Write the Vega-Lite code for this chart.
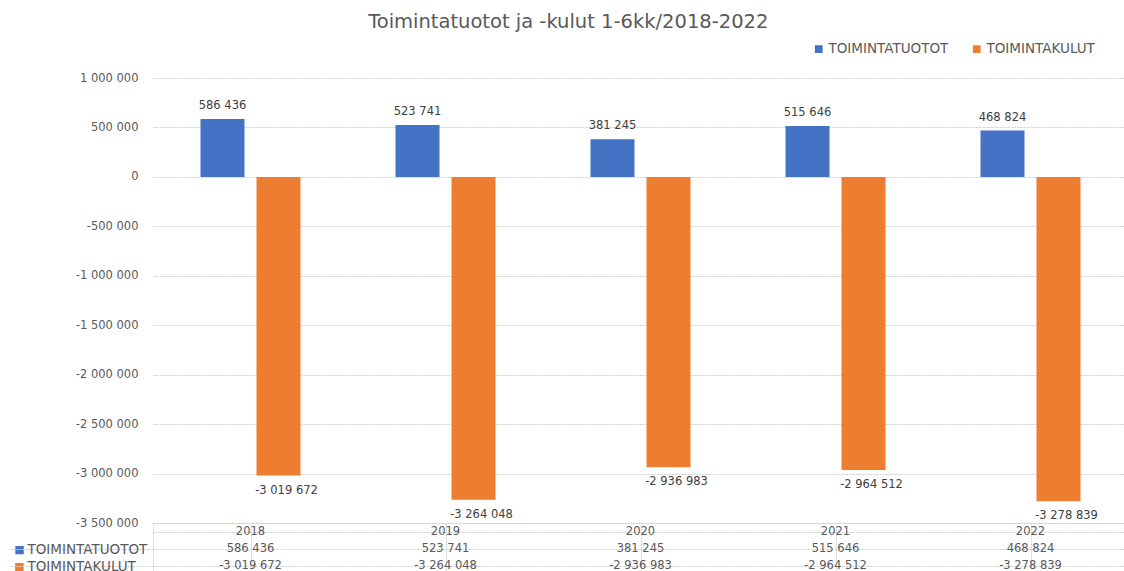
{
  "$schema": "https://vega.github.io/schema/vega-lite/v6.json",
  "background": "white",
  "padding": {"left": 8, "top": 11, "right": 0, "bottom": 0},
  "title": {"text": "Toimintatuotot ja -kulut 1-6kk/2018-2022", "font": "DejaVu Sans", "fontSize": 19.5, "fontWeight": "normal", "color": "#595959", "anchor": "middle", "offset": 10},
  "data": {"values": [
    {"year": "2018", "series": "TOIMINTATUOTOT", "value": 586436},
    {"year": "2018", "series": "TOIMINTAKULUT", "value": -3019672},
    {"year": "2019", "series": "TOIMINTATUOTOT", "value": 523741},
    {"year": "2019", "series": "TOIMINTAKULUT", "value": -3264048},
    {"year": "2020", "series": "TOIMINTATUOTOT", "value": 381245},
    {"year": "2020", "series": "TOIMINTAKULUT", "value": -2936983},
    {"year": "2021", "series": "TOIMINTATUOTOT", "value": 515646},
    {"year": "2021", "series": "TOIMINTAKULUT", "value": -2964512},
    {"year": "2022", "series": "TOIMINTATUOTOT", "value": 468824},
    {"year": "2022", "series": "TOIMINTAKULUT", "value": -3278839}
  ]},
  "config": {
    "locale": {"number": {"decimal": ",", "thousands": " ", "grouping": [3], "currency": ["", " €"], "minus": "-"}},
    "font": "DejaVu Sans",
    "view": {"stroke": null},
    "axis": {"labelColor": "#595959", "labelFont": "DejaVu Sans", "labelFontSize": 11.5, "domain": false, "ticks": false, "title": null},
    "text": {"font": "DejaVu Sans", "fontSize": 11.5, "color": "#404040"}
  },
  "spacing": 0,
  "bounds": "flush",
  "resolve": {"legend": {"color": "independent"}},
  "vconcat": [
    {
      "width": 975,
      "height": 445,
      "encoding": {
        "x": {"field": "year", "type": "nominal", "scale": {"paddingInner": 0, "paddingOuter": 0}, "axis": null},
        "xOffset": {"field": "series", "type": "nominal", "scale": {"domain": ["TOIMINTATUOTOT", "TOIMINTAKULUT"], "paddingInner": 0.214, "paddingOuter": 0.848}},
        "y": {"field": "value", "type": "quantitative", "scale": {"domain": [-3500000, 1000000], "nice": false},
              "axis": {"values": [1000000, 500000, 0, -500000, -1000000, -1500000, -2000000, -2500000, -3000000, -3500000], "format": ",d", "labelPadding": 15, "grid": true, "gridColor": "#d0d0d0", "gridDash": [2, 1]}}
      },
      "layer": [
        {
          "mark": {"type": "bar"},
          "encoding": {
            "color": {"field": "series", "type": "nominal", "scale": {"domain": ["TOIMINTATUOTOT", "TOIMINTAKULUT"], "range": ["#4472C4", "#ED7D31"]},
                      "legend": {"orient": "none", "legendX": 659, "legendY": -36, "direction": "horizontal", "title": null, "symbolType": "square", "symbolSize": 60, "symbolStrokeWidth": 0, "labelFontSize": 13.5, "labelColor": "#595959", "labelFont": "DejaVu Sans", "columnPadding": 21, "labelOffset": 3}}
          }
        },
        {
          "transform": [{"filter": "datum.series == 'TOIMINTATUOTOT'"}],
          "mark": {"type": "text", "baseline": "bottom", "dy": -8},
          "encoding": {"text": {"field": "value", "type": "quantitative", "format": ",d"}}
        },
        {
          "transform": [{"filter": "datum.series == 'TOIMINTAKULUT'"}],
          "mark": {"type": "text", "baseline": "top", "dy": 9, "dx": 8},
          "encoding": {"text": {"field": "value", "type": "quantitative", "format": ",d"}}
        }
      ]
    },
    {
      "width": 975,
      "height": 52,
      "view": {"stroke": "#d0d0d0", "strokeDash": [2, 1]},
      "layer": [
        {
          "transform": [{"filter": "datum.series == 'TOIMINTATUOTOT'"}],
          "mark": {"type": "text", "color": "#595959"},
          "encoding": {
            "x": {"field": "year", "type": "nominal", "scale": {"paddingInner": 0, "paddingOuter": 0},
                  "axis": {"orient": "bottom", "labels": false, "grid": true, "bandPosition": 0, "gridColor": "#d0d0d0", "gridDash": [2, 1]}},
            "y": {"datum": " ", "type": "nominal", "scale": {"domain": [" ", "TOIMINTATUOTOT", "TOIMINTAKULUT"], "paddingInner": 0, "paddingOuter": 0},
                  "axis": {"orient": "left", "labelExpr": "datum.value == ' ' ? '' : '■'", "labelAlign": "center", "labelPadding": 134, "labelFontSize": 11,
                           "labelColor": {"condition": {"test": "datum.value == 'TOIMINTATUOTOT'", "value": "#4472C4"}, "value": "#ED7D31"}}},
            "text": {"field": "year", "type": "nominal"}
          }
        },
        {
          "mark": {"type": "text", "color": "#595959"},
          "encoding": {
            "x": {"field": "year", "type": "nominal"},
            "y": {"field": "series", "type": "nominal",
                  "axis": {"orient": "left", "labelAlign": "left", "ticks": true, "tickSize": 144, "bandPosition": 0, "labelPadding": -18,
                           "tickColor": {"condition": {"test": "datum.value == ' '", "value": "transparent"}, "value": "#d0d0d0"}, "tickDash": [2, 1],
                           "grid": true, "gridColor": "#d0d0d0", "gridDash": [2, 1], "labelFontSize": 13.5}},
            "text": {"field": "value", "type": "quantitative", "format": ",d"}
          }
        }
      ],
      "resolve": {"axis": {"y": "independent"}}
    }
  ]
}
